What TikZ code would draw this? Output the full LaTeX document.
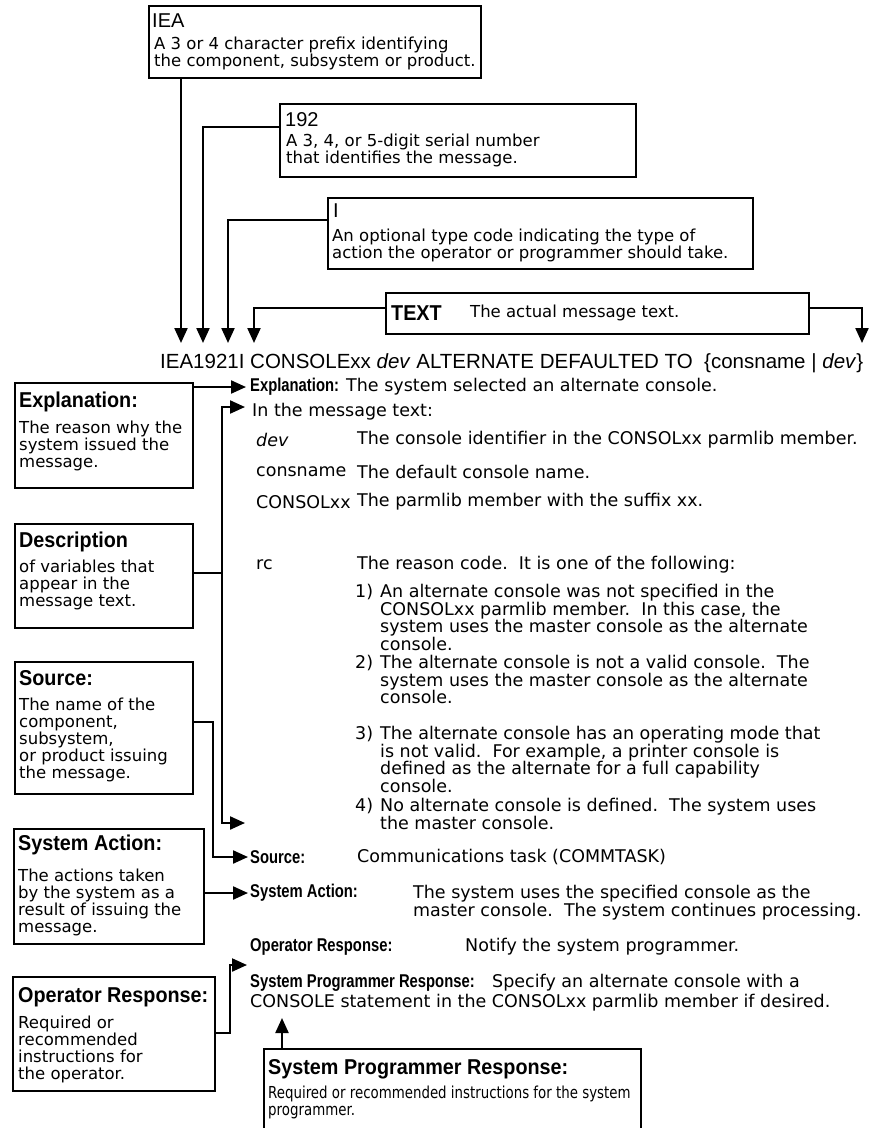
\documentclass[tikz,border=0pt]{standalone}
\usepackage{fontspec}
\setmainfont{DejaVu Sans}
\newfontfamily\headfont{Liberation Sans}
\newfontfamily\titlefont[FakeStretch=0.92]{Liberation Sans}
\newfontfamily\tagfont[FakeStretch=0.8]{Liberation Sans}
\newfontfamily\narrowfont[FakeStretch=0.81]{DejaVu Sans}
\usetikzlibrary{positioning, arrows.meta}

\newcommand{\boxsize}{\fontsize{16.5}{17}\selectfont}
\newcommand{\notesize}{\fontsize{17.5}{18}\selectfont}
\newcommand{\itemsize}{\fontsize{17.5}{17.5}\selectfont}
\newcommand{\headsize}{\titlefont\bfseries\fontsize{21.5}{22}\selectfont}
\newcommand{\tagsize}{\tagfont\bfseries\fontsize{18.5}{19}\selectfont}

\tikzset{
    callout/.style = {
        rectangle, draw, line width=2.4pt,
        anchor=north west, inner sep=0pt
    },
    tophead/.style = {
        anchor=north west, inner sep=0pt,
        font=\headfont\fontsize{20}{22}\selectfont
    },
    boxhead/.style = {
        anchor=north west, inner sep=0pt,
        font=\headsize
    },
    boxbody/.style = {
        anchor=north west, inner sep=0pt,
        align=left, font=\boxsize
    },
    tag/.style = {
        anchor=west, inner sep=0pt, font=\tagsize
    },
    note/.style = {
        anchor=west, inner sep=0pt, font=\notesize
    },
    item/.style = {
        anchor=north west, inner sep=0pt,
        align=left, font=\itemsize
    },
    link/.style = {
        line width=2.2pt
    },
    arrow/.style = {
        -{Triangle[length=15pt,width=13pt]}, line width=2.2pt
    }
}

\begin{document}
\begin{tikzpicture}[x=1pt, y=-1pt]
\useasboundingbox (0,0) rectangle (872,1128);

% parts of the message identifier
\node (iea) [callout, minimum width=332pt, minimum height=72pt] at (148,5) {};
\node (ieahead) [tophead, below right=9pt and 4pt of iea.north west] {IEA};
\node (ieabody) [boxbody, below right=32pt and 6pt of iea.north west] {A 3 or 4 character prefix identifying\\the component, subsystem or product.};

\node (serial) [callout, minimum width=356pt, minimum height=73pt] at (279,103) {};
\node (serialhead) [tophead, below right=9pt and 6pt of serial.north west] {192};
\node (serialbody) [boxbody, below right=31pt and 7pt of serial.north west] {A 3, 4, or 5-digit serial number\\that identifies the message.};

\node (type) [callout, minimum width=425pt, minimum height=71pt] at (327,197) {};
\node (typehead) [tophead, below right=7pt and 6pt of type.north west] {I};
\node (typebody) [boxbody, below right=32pt and 5pt of type.north west] {An optional type code indicating the type of\\action the operator or programmer should take.};

\node (msgtext) [callout, minimum width=423pt, minimum height=41pt] at (385,292) {};
\node (msgtexthead) [tophead, anchor=west, font=\headsize] at (391,313) {TEXT};
\node (msgtextbody) [note, font=\boxsize] at (470,313) {The actual message text.};

% the message itself
\node (msg) [anchor=west, inner sep=0pt, font=\headfont\fontsize{20.5}{22}\selectfont] at (160,363) {IEA1921I CONSOLExx \textit{dev} ALTERNATE DEFAULTED TO\ \ \{consname | \textit{dev}\}};

\coordinate (tiea) at (181,343);
\coordinate (tserial) at (203,343);
\coordinate (ttype) at (228,343);
\coordinate (ttexta) at (254,343);
\coordinate (ttextb) at (862,343);

\draw [arrow] (iea.south -| tiea) -- (tiea);
\draw [arrow] ([yshift=-24pt]serial.north west) -| (tserial);
\draw [arrow] ([yshift=-23pt]type.north west) -| (ttype);
\draw [arrow] ([yshift=-16pt]msgtext.north west) -| (ttexta);
\draw [arrow] ([yshift=-16pt]msgtext.north east) -| (ttextb);

% the message description
\node (explTag) [tag] at (250,387) {Explanation:};
\node (explText) [note] at (346,387) {The system selected an alternate console.};
\node (intro) [note] at (252,412) {In the message text:};

\node (vdev) [note] at (256,440) {\textit{dev}};
\node (ddev) [note] at (357,440) {The console identifier in the CONSOLxx parmlib member.};
\node (vcons) [note] at (256,472) {consname};
\node (dcons) [note] at (357,472) {The default console name.};
\node (vconsol) [note] at (256,502) {CONSOLxx};
\node (dconsol) [note] at (357,502) {The parmlib member with the suffix xx.};
\node (vrc) [note] at (256,565) {rc};
\node (drc) [note] at (357,565) {The reason code.\ \ It is one of the following:};

\node (n1) [item] at (355,584) {1)};
\node (i1) [item] at (380,584) {An alternate console was not specified in the\\CONSOLxx parmlib member.\ \ In this case, the\\system uses the master console as the alternate\\console.};
\node (n2) [item] at (355,655) {2)};
\node (i2) [item] at (380,655) {The alternate console is not a valid console.\ \ The\\system uses the master console as the alternate\\console.};
\node (n3) [item] at (355,726) {3)};
\node (i3) [item] at (380,726) {The alternate console has an operating mode that\\is not valid.\ \ For example, a printer console is\\defined as the alternate for a full capability\\console.};
\node (n4) [item] at (355,798) {4)};
\node (i4) [item] at (380,798) {No alternate console is defined.\ \ The system uses\\the master console.};

\node (srcTag) [tag] at (250,857) {Source:};
\node (srcText) [note] at (357,857) {Communications task (COMMTASK)};
\node (actTag) [tag] at (250,893) {System Action:};
\node (actText) [item, font=\notesize] at (413,885) {The system uses the specified console as the\\master console.\ \ The system continues processing.};
\node (operTag) [tag] at (250,947) {Operator Response:};
\node (operText) [note] at (465,947) {Notify the system programmer.};
\node (progrTag) [tag] at (250,983) {System Programmer Response:};
\node (progrText) [note] at (492,983) {Specify an alternate console with a};
\node (progrMore) [note] at (250,1003) {CONSOLE statement in the CONSOLxx parmlib member if desired.};

% the boxes on the left
\node (expl) [callout, minimum width=178pt, minimum height=105pt] at (14,382) {};
\node (explhead) [boxhead, below right=10pt and 5pt of expl.north west] {Explanation:};
\node (explbody) [boxbody, below right=39pt and 5pt of expl.north west] {The reason why the\\system issued the\\message.};

\node (desc) [callout, minimum width=178pt, minimum height=104pt] at (14,523) {};
\node (deschead) [boxhead, below right=9pt and 5pt of desc.north west] {Description};
\node (descbody) [boxbody, below right=37pt and 5pt of desc.north west] {of variables that\\appear in the\\message text.};

\node (src) [callout, minimum width=178pt, minimum height=132pt] at (14,661) {};
\node (srchead) [boxhead, below right=9pt and 5pt of src.north west] {Source:};
\node (srcbody) [boxbody, below right=37pt and 5pt of src.north west] {The name of the\\component,\\subsystem,\\or product issuing\\the message.};

\node (act) [callout, minimum width=190pt, minimum height=115pt] at (13,828) {};
\node (acthead) [boxhead, below right=7pt and 5pt of act.north west] {System Action:};
\node (actbody) [boxbody, below right=41pt and 5pt of act.north west] {The actions taken\\by the system as a\\result of issuing the\\message.};

\node (oper) [callout, minimum width=202pt, minimum height=114pt] at (12,976) {};
\node (operhead) [boxhead, below right=11pt and 6pt of oper.north west] {Operator Response:};
\node (operbody) [boxbody, below right=40pt and 6pt of oper.north west] {Required or\\recommended\\instructions for\\the operator.};

\node (progr) [callout, minimum width=377pt, minimum height=84pt] at (263,1048) {};
\node (progrhead) [boxhead, below right=11pt and 5pt of progr.north west] {System Programmer Response:};
\node (progrbody) [boxbody, font=\narrowfont\boxsize, below right=38pt and 5pt of progr.north west] {Required or recommended instructions for the system\\programmer.};

% connectors to the description
\coordinate (descJoin) at (222,573);
\coordinate (descUp) at (245,407);
\coordinate (descDown) at (245,823);
\coordinate (srcJoin) at (213,722);
\coordinate (operJoin) at (230,1033);
\coordinate (operTip) at (247,965);
\coordinate (progrTip) at (282,1018);

\draw [arrow, shorten >=4pt] (expl.east |- explTag.west) -- (explTag.west);
\draw [link] (desc.east |- descJoin) -- (descJoin);
\draw [arrow] (descJoin) |- (descUp);
\draw [arrow] (descJoin) |- (descDown);
\draw [arrow, shorten >=2pt] (src.east |- srcJoin) -- (srcJoin) |- (srcTag.west);
\draw [arrow, shorten >=2pt] (act.east |- actTag.west) -- (actTag.west);
\draw [arrow] (oper.east |- operJoin) -- (operJoin) |- (operTip);
\draw [arrow] (progr.north -| progrTip) -- (progrTip);

\end{tikzpicture}
\end{document}
